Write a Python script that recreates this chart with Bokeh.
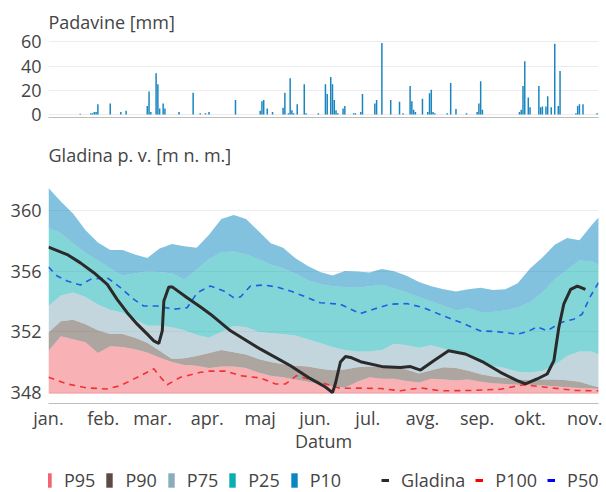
import pandas as pd
from bokeh.plotting import figure
from bokeh.models import Range1d, FixedTicker, Legend, LegendItem
from bokeh.layouts import column
from bokeh.embed import file_html
from bokeh.resources import INLINE

# ---------------- data ----------------
YEAR_START = "2023-01-01"
month_starts = ["2023-01-01", "2023-02-01", "2023-03-01", "2023-04-01", "2023-05-01", "2023-06-01",
                "2023-07-01", "2023-08-01", "2023-09-01", "2023-10-01", "2023-11-01"]
month_labels = ["jan.", "feb.", "mar.", "apr.", "maj", "jun.", "jul.", "avg.", "sep.", "okt.", "nov."]

# precipitation (day offset from 1 Jan, mm)
precip_days = [18, 24, 25, 26, 27, 28, 35, 41, 44, 56, 57, 58, 61, 62, 63, 65, 66, 74, 82, 86, 89, 91, 106,
               120, 121, 122, 124, 127, 133, 134, 136, 137, 138, 139, 141, 145, 146, 153, 157, 158, 160, 161,
               162, 163, 164, 167, 168, 173, 174, 177, 178, 185, 186, 189, 194, 199, 201, 205, 206, 207, 208,
               212, 215, 216, 217, 218, 219, 226, 228, 231, 237, 243, 244, 245, 246, 267, 268, 269, 270, 272,
               273, 278, 279, 280, 282, 283, 285, 287, 289, 290, 299, 300, 301, 303, 311]
precip_mm = [0.5, 1, 1, 2, 2, 8.5, 9, 2, 3, 7, 19, 2, 34, 25, 5, 9, 5, 2, 18, 1, 1, 2, 12,
             3, 11, 12, 5, 2, 5.5, 18, 1, 30, 3.5, 1, 8.5, 25, 1, 1, 25, 17, 31, 25,
             12, 3.5, 1, 5, 7, 1, 1, 2, 17, 9, 12, 59, 12, 10.5, 1, 23.5, 11, 4, 2,
             13, 2, 17.5, 20.5, 2, 1, 1, 26, 4.5, 1, 2, 9, 27.5, 4, 2, 4, 23.5, 44, 14,
             6, 23.5, 6, 6.5, 6.5, 15, 6, 58.5, 7, 36, 1, 7, 8.5, 8.5, 1]

# percentile bands (day offsets)
pct_days = [0, 7, 14, 21, 28, 35, 42, 49, 56, 63, 70, 77, 84, 91, 98, 105, 112, 119, 126, 133, 140, 147,
            154, 161, 168, 175, 182, 189, 196, 203, 210, 217, 224, 231, 238, 245, 252, 259, 266, 273, 280,
            287, 294, 301, 308, 312]
p10 = [361.49, 360.6, 359.8, 358.7, 357.9, 357.4, 357.4, 357.1, 356.88, 357.5, 357.8, 357.65, 357.55, 358.4,
       359.45, 359.72, 359.45, 358.65, 357.85, 357.55, 356.85, 356.35, 355.95, 355.72, 356.02, 355.98, 355.92,
       356.15, 356.0, 355.7, 355.28, 355.0, 354.8, 354.66, 354.8, 354.9, 354.75, 354.8, 355.2, 356.18, 356.9,
       357.75, 358.2, 358.05, 359.05, 359.56]
p25 = [358.86, 358.5, 357.85, 357.2, 356.7, 356.2, 355.72, 355.85, 356.0, 355.95, 355.85, 355.45, 356.1, 356.8,
       357.25, 357.3, 357.1, 356.8, 356.45, 356.2, 355.85, 355.4, 355.15, 355.0, 354.95, 354.9, 355.0, 355.1,
       354.85, 354.6, 354.3, 354.0, 353.72, 353.4, 353.57, 353.3, 353.3, 353.42, 353.6, 353.95, 354.6, 355.45,
       356.1, 356.7, 356.65, 356.4]
p75 = [353.7, 354.4, 354.6, 354.3, 353.8, 353.45, 353.25, 352.85, 352.4, 352.4, 352.3, 352.1, 351.8, 351.6,
       352.0, 352.4, 352.3, 352.0, 351.9, 351.85, 351.75, 351.5, 351.25, 351.0, 350.8, 350.7, 350.7, 350.8,
       351.2, 351.1, 350.95, 351.1, 350.9, 350.6, 350.4, 349.95, 349.75, 349.6, 349.35, 349.3, 349.4, 349.8,
       350.4, 350.7, 350.7, 350.5]
p90 = [351.95, 352.7, 352.8, 352.5, 352.1, 351.85, 351.85, 351.6, 351.28, 350.75, 350.2, 350.25, 350.4, 350.6,
       350.8, 350.65, 350.5, 350.2, 350.0, 349.85, 349.75, 349.7, 349.55, 349.45, 349.5, 349.65, 349.7, 349.65,
       349.6, 349.5, 349.25, 349.45, 349.65, 349.6, 349.43, 349.2, 349.05, 348.95, 348.85, 348.8, 348.85,
       348.85, 348.8, 348.7, 348.45, 348.33]
p95 = [350.74, 351.7, 351.5, 351.3, 350.6, 351.05, 351.0, 350.85, 350.63, 350.3, 350.0, 349.8, 349.75, 349.6,
       349.7, 349.7, 349.6, 349.3, 349.1, 349.0, 348.85, 348.7, 348.55, 348.4, 348.3, 348.7, 349.0, 348.9,
       348.9, 348.75, 348.65, 348.9, 348.85, 348.8, 348.85, 348.7, 348.6, 348.55, 348.5, 348.5, 348.45, 348.4,
       348.33, 348.28, 348.25, 348.22]
P95_FLOOR = 347.9

p100_days = [0, 10.6, 21.9, 33.3, 40.8, 52.2, 59.7, 63.5, 67.3, 74.8, 86.2, 91.3, 100.3, 108.8, 120.2, 128.7,
             134.4, 140.6, 154.2, 165.5, 176.9, 188.2, 199.5, 210.9, 222.2, 239.2, 256.2, 269.3, 284.6, 298.8,
             311.8]
p100 = [349.0, 348.55, 348.29, 348.22, 348.44, 349.1, 349.55, 349.0, 348.5, 348.99, 349.32, 349.4, 349.4,
        349.1, 348.95, 348.55, 348.55, 349.1, 348.65, 348.26, 348.28, 348.25, 348.1, 348.29, 348.1, 348.12,
        348.2, 348.5, 348.3, 348.12, 348.1]

p50_days = [0, 4.9, 10.6, 18.1, 23.8, 33.3, 40.8, 48.4, 54.0, 61.6, 71.0, 78.6, 84.3, 91.8, 99.4, 105.0, 108.8,
            114.5, 122.1, 129.6, 137.2, 144.6, 154.0, 165.4, 176.7, 184.2, 193.7, 203.1, 212.6, 223.9, 235.3,
            244.7, 254.4, 265.7, 271.4, 277.0, 282.7, 290.2, 297.8, 302.5, 307.3, 311.8]
p50 = [356.27, 355.68, 355.35, 355.09, 355.46, 355.57, 354.91, 354.14, 353.7, 353.7, 353.49, 353.59, 354.58,
       355.02, 354.69, 354.25, 354.3, 355.02, 355.09, 354.95, 354.69, 354.36, 353.92, 353.82, 353.2, 353.49,
       353.82, 353.86, 353.59, 353.05, 352.54, 352.06, 352.01, 351.84, 352.0, 352.32, 352.06, 352.6, 352.83,
       353.16, 354.36, 355.24]

gl_days = [0, 10.6, 18.1, 25.7, 33.3, 38.9, 44.6, 50.3, 56.0, 59.7, 62.5, 64.5, 65.4, 68.2, 70.3, 78.6, 86.2,
           91.8, 103.2, 120.2, 137.2, 148.5, 157.0, 161.0, 162.7, 165.5, 168.4, 171.2, 176.9, 189.9, 199.5,
           205.2, 210.9, 218.4, 226.8, 236.3, 246.8, 256.2, 265.7, 270.4, 277.0, 282.7, 286.5, 289.3, 292.1,
           296.0, 299.8, 304.4]
gladina = [357.59, 357.1, 356.55, 355.9, 355.13, 354.14, 353.26, 352.5, 351.84, 351.4, 351.22, 352.06, 354.03,
           354.95, 354.95, 354.25, 353.64, 353.16, 352.06, 350.85, 349.75, 348.9, 348.35, 347.98, 348.6, 350.0,
           350.36, 350.3, 350.02, 349.68, 349.64, 349.7, 349.47, 350.09, 350.74, 350.53, 349.97, 349.32, 348.77,
           348.55, 348.88, 349.21, 350.09, 352.28, 353.82, 354.8, 355.02, 354.8]

# ---------------- helpers / styles ----------------
T0 = pd.Timestamp(YEAR_START)


def to_dt(days):
    return [T0 + pd.Timedelta(days=float(d)) for d in days]


FONT = "Open Sans"
TXT = "#444444"
FS = "18px"
GRID = "#ececec"
AXLINE = "#bdbdbd"

C95, C90, C75, C25, C10 = "#f2656e", "#5c4b42", "#8aadbb", "#07aeb2", "#0786c0"
BAR = "#1a86c0"

x_range = Range1d(T0, T0 + pd.Timedelta(days=311.8))


def style_common(p):
    p.title.text_font = FONT
    p.title.text_font_size = FS
    p.title.text_font_style = "normal"
    p.title.text_color = TXT
    p.title.offset = 0
    p.outline_line_color = None
    p.xgrid.grid_line_color = None
    p.ygrid.grid_line_color = GRID
    for ax in (p.xaxis, p.yaxis):
        ax.major_tick_line_color = None
        ax.minor_tick_line_color = None
        ax.major_tick_out = 0
        ax.major_tick_in = 0
        ax.minor_tick_out = 0
        ax.minor_tick_in = 0
    p.yaxis.axis_line_color = None
    p.yaxis.major_label_text_font = FONT
    p.yaxis.major_label_text_font_size = FS
    p.yaxis.major_label_text_color = TXT
    p.yaxis.major_label_standoff = 7
    p.xaxis.axis_line_color = AXLINE


# ---------------- precipitation ----------------
p1 = figure(width=606, height=130, x_axis_type="datetime", x_range=x_range, y_range=Range1d(-2.5, 64.4),
            output_backend="svg", toolbar_location=None, title="Padavine [mm]",
            min_border_left=48, min_border_right=8, min_border_top=36, min_border_bottom=13)
style_common(p1)
p1.title.standoff = 5
p1.vbar(x=to_dt(precip_days), top=precip_mm, width=0.85 * 86400000, fill_color=BAR, line_color=None)
p1.yaxis.ticker = FixedTicker(ticks=[0, 20, 40, 60])
p1.xaxis.ticker = FixedTicker(ticks=[])
p1.xaxis.major_label_text_font_size = "0px"

# ---------------- groundwater ----------------
p2 = figure(width=606, height=328, x_axis_type="datetime", x_range=x_range, y_range=Range1d(347.26, 362.19),
            output_backend="svg", toolbar_location=None, title="Gladina p. v. [m n. m.]",
            min_border_left=48, min_border_right=8, min_border_top=46, min_border_bottom=55)
style_common(p2)
p2.title.standoff = 21

xd = to_dt(pct_days)
p2.varea(x=xd, y1=P95_FLOOR, y2=p95, fill_color=C95, fill_alpha=0.5)
p2.varea(x=xd, y1=p95, y2=p90, fill_color=C90, fill_alpha=0.5)
p2.varea(x=xd, y1=p90, y2=p75, fill_color=C75, fill_alpha=0.5)
p2.varea(x=xd, y1=p75, y2=p25, fill_color=C25, fill_alpha=0.5)
p2.varea(x=xd, y1=p25, y2=p10, fill_color=C10, fill_alpha=0.5)

p2.line(to_dt(p100_days), p100, line_color="#f03232", line_width=1.6, line_dash="6 5")
p2.line(to_dt(p50_days), p50, line_color="#1f5fe0", line_width=1.6, line_dash="6 5")
p2.line(to_dt(gl_days), gladina, line_color="#2a2a2a", line_width=3)

p2.yaxis.ticker = FixedTicker(ticks=[348, 352, 356, 360])
tick_ms = [float(pd.Timestamp(m).value // 10**6) for m in month_starts]
p2.xaxis.ticker = FixedTicker(ticks=tick_ms)
p2.xaxis.major_label_overrides = {t: lab for t, lab in zip(tick_ms, month_labels)}
p2.xaxis.major_label_text_font = FONT
p2.xaxis.major_label_text_font_size = FS
p2.xaxis.major_label_text_color = TXT
p2.xaxis.major_label_standoff = 2
p2.xaxis.axis_label = "Datum"
p2.xaxis.axis_label_text_font = FONT
p2.xaxis.axis_label_text_font_size = FS
p2.xaxis.axis_label_text_font_style = "normal"
p2.xaxis.axis_label_text_color = TXT
p2.xaxis.axis_label_standoff = -4

# ---------------- legend strip ----------------
p3 = figure(width=606, height=34, output_backend="svg", toolbar_location=None,
            x_range=Range1d(0, 1), y_range=Range1d(0, 1),
            x_axis_location=None, y_axis_location=None,
            min_border_left=0, min_border_right=0, min_border_top=0, min_border_bottom=0)
p3.outline_line_color = None
p3.grid.grid_line_color = None

# proxy glyphs placed outside the visible range (only their legend swatches show)
ax_, ay_ = [5, 6], [5, 5]
r95 = p3.varea(x=ax_, y1=ay_, y2=[6, 6], fill_color=C95, fill_alpha=1)
r90 = p3.varea(x=ax_, y1=ay_, y2=[6, 6], fill_color=C90, fill_alpha=1)
r75 = p3.varea(x=ax_, y1=ay_, y2=[6, 6], fill_color=C75, fill_alpha=1)
r25 = p3.varea(x=ax_, y1=ay_, y2=[6, 6], fill_color=C25, fill_alpha=1)
r10 = p3.varea(x=ax_, y1=ay_, y2=[6, 6], fill_color=C10, fill_alpha=1)
rsp = p3.line(x=ax_, y=ay_, line_alpha=0)
rgl = p3.line(x=ax_, y=ay_, line_color="#2a2a2a", line_width=3)
r100 = p3.line(x=ax_, y=ay_, line_color="red", line_width=3)
r50 = p3.line(x=ax_, y=ay_, line_color="blue", line_width=3)

legend = Legend(items=[LegendItem(label="P95", renderers=[r95]), LegendItem(label="P90", renderers=[r90]),
                       LegendItem(label="P75", renderers=[r75]), LegendItem(label="P25", renderers=[r25]),
                       LegendItem(label="P10", renderers=[r10]), LegendItem(label=" ", renderers=[rsp]),
                       LegendItem(label="Gladina", renderers=[rgl]), LegendItem(label="P100", renderers=[r100]),
                       LegendItem(label="P50", renderers=[r50])],
                orientation="horizontal", location=(-4, 0),
                glyph_width=8, glyph_height=18, label_standoff=12, spacing=10, padding=0, margin=0,
                label_width=0, border_line_color=None, background_fill_alpha=0,
                label_text_font=FONT, label_text_font_size=FS, label_text_color=TXT, label_height=20)
p3.add_layout(legend)

layout = column(p1, p2, p3, spacing=0)
open("out.html", "w").write(file_html(layout, INLINE))
